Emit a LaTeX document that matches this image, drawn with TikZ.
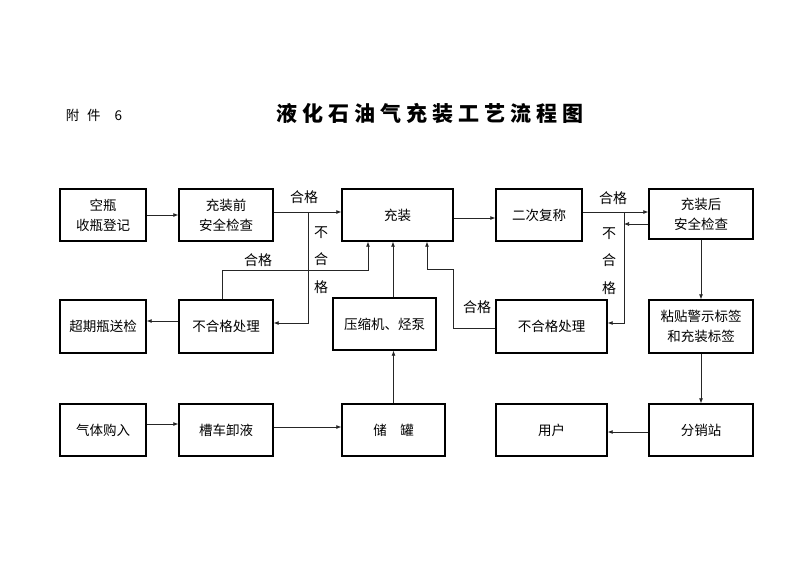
\documentclass[tikz,border=0pt]{standalone}
\usepackage{fontspec}
\setmainfont{Noto Sans CJK SC}
\usepackage{tikz}
\usetikzlibrary{arrows.meta}
\tikzstyle{bx}=[draw, line width=1.4pt, inner sep=0pt, align=center, font=\fontsize{13.5}{20}\selectfont]
\tikzstyle{ar}=[draw=black!85, line width=0.7pt, -{Latex[length=5pt,width=4pt]}]
\tikzstyle{lb}=[inner sep=0pt, align=center, font=\fontsize{14}{27.5}\selectfont]

\begin{document}
\begin{tikzpicture}[x=1pt, y=-1pt]

\useasboundingbox (0,0) rectangle (800,566);

\node[inner sep=0pt, font=\fontsize{13.5}{13.5}\selectfont] (fujian) at (94,115) {附\hspace{8pt}件\hspace{14pt}6};
\node[inner sep=0pt, font=\fontsize{21}{21}\selectfont\bfseries\addfontfeature{LetterSpace=24}] (title) at (430,114) {液化石油气充装工艺流程图};

\node[bx, minimum width=86pt, minimum height=52pt] (kong) at (103,215) {空瓶\\收瓶登记};
\node[bx, minimum width=94pt, minimum height=52pt] (pre) at (226,215) {充装前\\安全检查};
\node[bx, minimum width=111pt, minimum height=52pt] (chongzhuang) at (397.5,215) {充装};
\node[bx, minimum width=86pt, minimum height=52pt] (fucheng) at (539,215) {二次复称};
\node[bx, minimum width=104pt, minimum height=50pt] (post) at (701,214) {充装后\\安全检查};

\node[bx, minimum width=86pt, minimum height=53pt] (chaoqi) at (103,326.5) {超期瓶送检};
\node[bx, minimum width=94pt, minimum height=53pt] (bhgL) at (226,326.5) {不合格处理};
\node[bx, minimum width=103pt, minimum height=52pt] (yasuo) at (384.5,324) {压缩机、烃泵};
\node[bx, minimum width=111pt, minimum height=53pt] (bhgR) at (551.5,326.5) {不合格处理};
\node[bx, minimum width=104pt, minimum height=53pt] (tiebiao) at (701,326.5) {粘贴警示标签\\和充装标签};

\node[bx, minimum width=86pt, minimum height=52pt] (goumai) at (103,430) {气体购入};
\node[bx, minimum width=94pt, minimum height=52pt] (caoche) at (226,430) {槽车卸液};
\node[bx, minimum width=103pt, minimum height=52pt] (chuguan) at (393.5,430) {储\hspace{1em}罐};
\node[bx, minimum width=111pt, minimum height=52pt] (yonghu) at (551.5,430) {用户};
\node[bx, minimum width=104pt, minimum height=52pt] (fenxiao) at (701,430) {分销站};

\coordinate (b1) at (308,212);
\coordinate (c1) at (368,270);
\coordinate (c2) at (453,269);
\coordinate (c3) at (427,269);
\coordinate (b2) at (624,212);

\draw[ar] (kong) -- (pre);
\draw[ar] ([yshift=3pt]pre.east) -- ([yshift=3pt]chongzhuang.west);
\draw[ar] (b1) |- ([yshift=3.5pt]bhgL.east);
\draw[ar] ([xshift=-4pt]bhgL.north) |- (c1) -- (c1 |- chongzhuang.south);
\draw[ar] ([yshift=5.5pt]bhgL.west) -- ([yshift=5.5pt]chaoqi.east);
\draw[ar] ([xshift=8.5pt]yasuo.north) -- ([xshift=8.5pt]yasuo.north |- chongzhuang.south);
\draw[ar] (chuguan.north) -- (chuguan.north |- yasuo.south);
\draw[ar] ([yshift=-1.5pt]bhgR.west) -| (c2) -- (c3) -- (c3 |- chongzhuang.south);
\draw[ar] ([yshift=-3pt]chongzhuang.east) -- ([yshift=-3pt]fucheng.west);
\draw[ar] ([yshift=3pt]fucheng.east) -- ([yshift=2pt]post.west);
\draw[ar] ([yshift=-10pt]post.west) -- ([yshift=-10pt]post.west -| b2);
\draw[ar] (b2) |- ([yshift=3.5pt]bhgR.east);
\draw[ar] (post) -- (tiebiao);
\draw[ar] (tiebiao) -- (fenxiao);
\draw[ar] ([yshift=-2pt]fenxiao.west) -- ([yshift=-2pt]yonghu.east);
\draw[ar] ([yshift=6pt]goumai.east) -- ([yshift=6pt]caoche.west);
\draw[ar] ([yshift=3pt]caoche.east) -- ([yshift=3pt]chuguan.west);

\node[lb] (hg1) at (304,197) {合格};
\node[lb] (bhg1) at (321,260) {不\\合\\格};
\node[lb] (hg2) at (258,260) {合格};
\node[lb] (hg3) at (477,307) {合格};
\node[lb] (hg4) at (613,198) {合格};
\node[lb] (bhg2) at (609,261) {不\\合\\格};

\end{tikzpicture}
\end{document}
